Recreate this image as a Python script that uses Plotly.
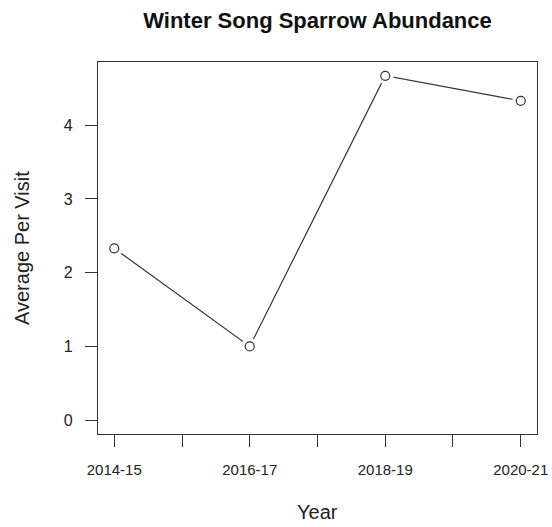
import plotly.graph_objects as go

seasons = ["2014-15", "2016-17", "2018-19", "2020-21"]
avg_per_visit = [2.33, 1.0, 4.67, 4.33]
y_ticks = [0, 1, 2, 3, 4]
x_tick_years = [2014, 2015, 2016, 2017, 2018, 2019, 2020]

x_vals = [int(s[:4]) for s in seasons]
x_ticktext = [f"{y}-{str(y + 1)[2:]}" if (y - 2014) % 2 == 0 else "" for y in x_tick_years]

ink = "#333333"
font_family = "Liberation Sans, Arial, sans-serif"

W, H = 552, 527
L, R, T, B = 98, 15, 62, 93
pw, ph = W - L - R, H - T - B

fig = go.Figure()
fig.add_trace(go.Scatter(x=x_vals, y=avg_per_visit, mode="lines",
                         line=dict(color=ink, width=1.2), hoverinfo="skip"))
fig.add_trace(go.Scatter(x=x_vals, y=avg_per_visit, mode="markers",
                         marker=dict(size=17, color="white", line=dict(width=0)), hoverinfo="skip"))
fig.add_trace(go.Scatter(x=x_vals, y=avg_per_visit, mode="markers",
                         marker=dict(size=9, color="white", line=dict(color=ink, width=1.2))))

ymax = max(avg_per_visit)
ypad = 0.04 * ymax
xpad = 0.04 * (max(x_vals) - min(x_vals))

fig.update_layout(
    width=W, height=H,
    margin=dict(l=L, r=R, t=T, b=B),
    plot_bgcolor="white", paper_bgcolor="white",
    showlegend=False,
    font=dict(family=font_family, color="#222222"),
    title=dict(text="<b>Winter Song Sparrow Abundance</b>", x=(L + pw / 2) / W, xanchor="center",
               y=1 - 20 / H, yanchor="middle", font=dict(size=22, color="#111111")),
    xaxis=dict(range=[min(x_vals) - xpad, max(x_vals) + xpad], tickvals=x_tick_years, ticktext=x_ticktext,
               showgrid=False, zeroline=False, showline=True, linecolor=ink, linewidth=1.2, mirror=True,
               ticks="outside", ticklen=12, tickcolor=ink, tickwidth=1.2, automargin=False,
               tickfont=dict(size=15), ticklabelstandoff=10, ticklabeloverflow="allow"),
    yaxis=dict(range=[-ypad, ymax + ypad], tickvals=y_ticks,
               showgrid=False, zeroline=False, showline=True, linecolor=ink, linewidth=1.2, mirror=True,
               ticks="outside", ticklen=12, tickcolor=ink, tickwidth=1.2, automargin=False,
               tickfont=dict(size=16), ticklabelstandoff=9),
    annotations=[
        dict(text="Year", xref="paper", yref="paper", x=0.5, y=-(512 - 434) / ph,
             xanchor="center", yanchor="middle", showarrow=False, font=dict(size=20)),
        dict(text="Average Per Visit", xref="paper", yref="paper", x=-(98 - 22) / pw, y=0.5,
             xanchor="center", yanchor="middle", textangle=-90, showarrow=False, font=dict(size=20)),
    ],
)

fig.write_html("out.html", config={"displayModeBar": False})

with open("out.html", "r", encoding="utf-8") as f:
    html = f.read()
html = html.replace("<body>", '<body style="margin:0;padding:0;overflow:hidden">', 1)
with open("out.html", "w", encoding="utf-8") as f:
    f.write(html)
